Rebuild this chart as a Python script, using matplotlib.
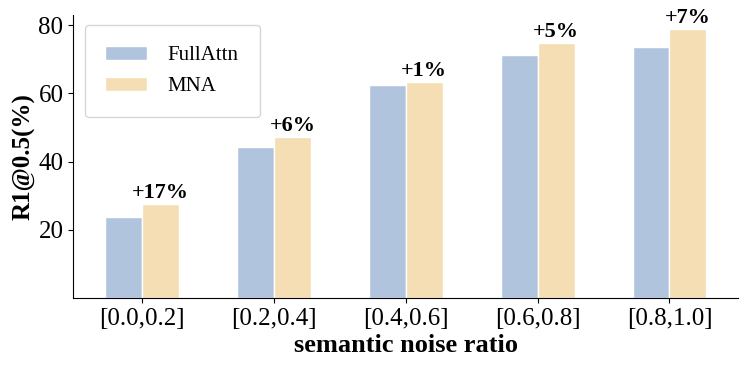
import matplotlib
matplotlib.use("Agg")
import matplotlib.pyplot as plt
import numpy as np

# datos
categories = ["[0.0,0.2]", "[0.2,0.4]", "[0.4,0.6]", "[0.6,0.8]", "[0.8,1.0]"]
full_attn = [23.7, 44.3, 62.6, 71.4, 73.7]
mna = [27.6, 47.1, 63.4, 74.9, 78.8]
gains = ["+17%", "+6%", "+1%", "+5%", "+7%"]

plt.rcParams['font.family'] = ['Liberation Serif', 'DejaVu Serif']

fig, ax = plt.subplots(figsize=(7.47, 3.69), dpi=100)
fig.subplots_adjust(left=0.098, right=0.988, top=0.959, bottom=0.193)

x = np.arange(len(categories))
w = 0.28
ax.bar(x - w / 2, full_attn, w, color='#b0c4de', edgecolor='white', linewidth=1, label='FullAttn')
ax.bar(x + w / 2, mna, w, color='#f5deb3', edgecolor='white', linewidth=1, label='MNA')

for i in range(len(categories)):
    ax.text(x[i] + w / 2, mna[i] + 0.3, gains[i], ha='center', va='bottom',
            fontsize=16, fontweight='bold')

ax.set_xticks(x)
ax.set_xticklabels(categories, fontsize=18)
ax.set_yticks([20, 40, 60, 80])
ax.tick_params(axis='y', labelsize=18)
ax.set_ylim(0, 83)
ax.set_xlim(-0.524, 4.52)
ax.set_ylabel('R1@0.5(%)', fontsize=18, fontweight='bold', labelpad=2)
ax.set_xlabel('semantic noise ratio', fontsize=19, fontweight='bold', labelpad=3)
ax.spines['top'].set_visible(False)
ax.spines['right'].set_visible(False)

ax.legend(loc='upper left', fontsize=15, borderpad=1.0, handletextpad=1.0,
          labelspacing=0.55, borderaxespad=0, bbox_to_anchor=(0.017, 0.965))

plt.savefig('out.png', dpi=100)
